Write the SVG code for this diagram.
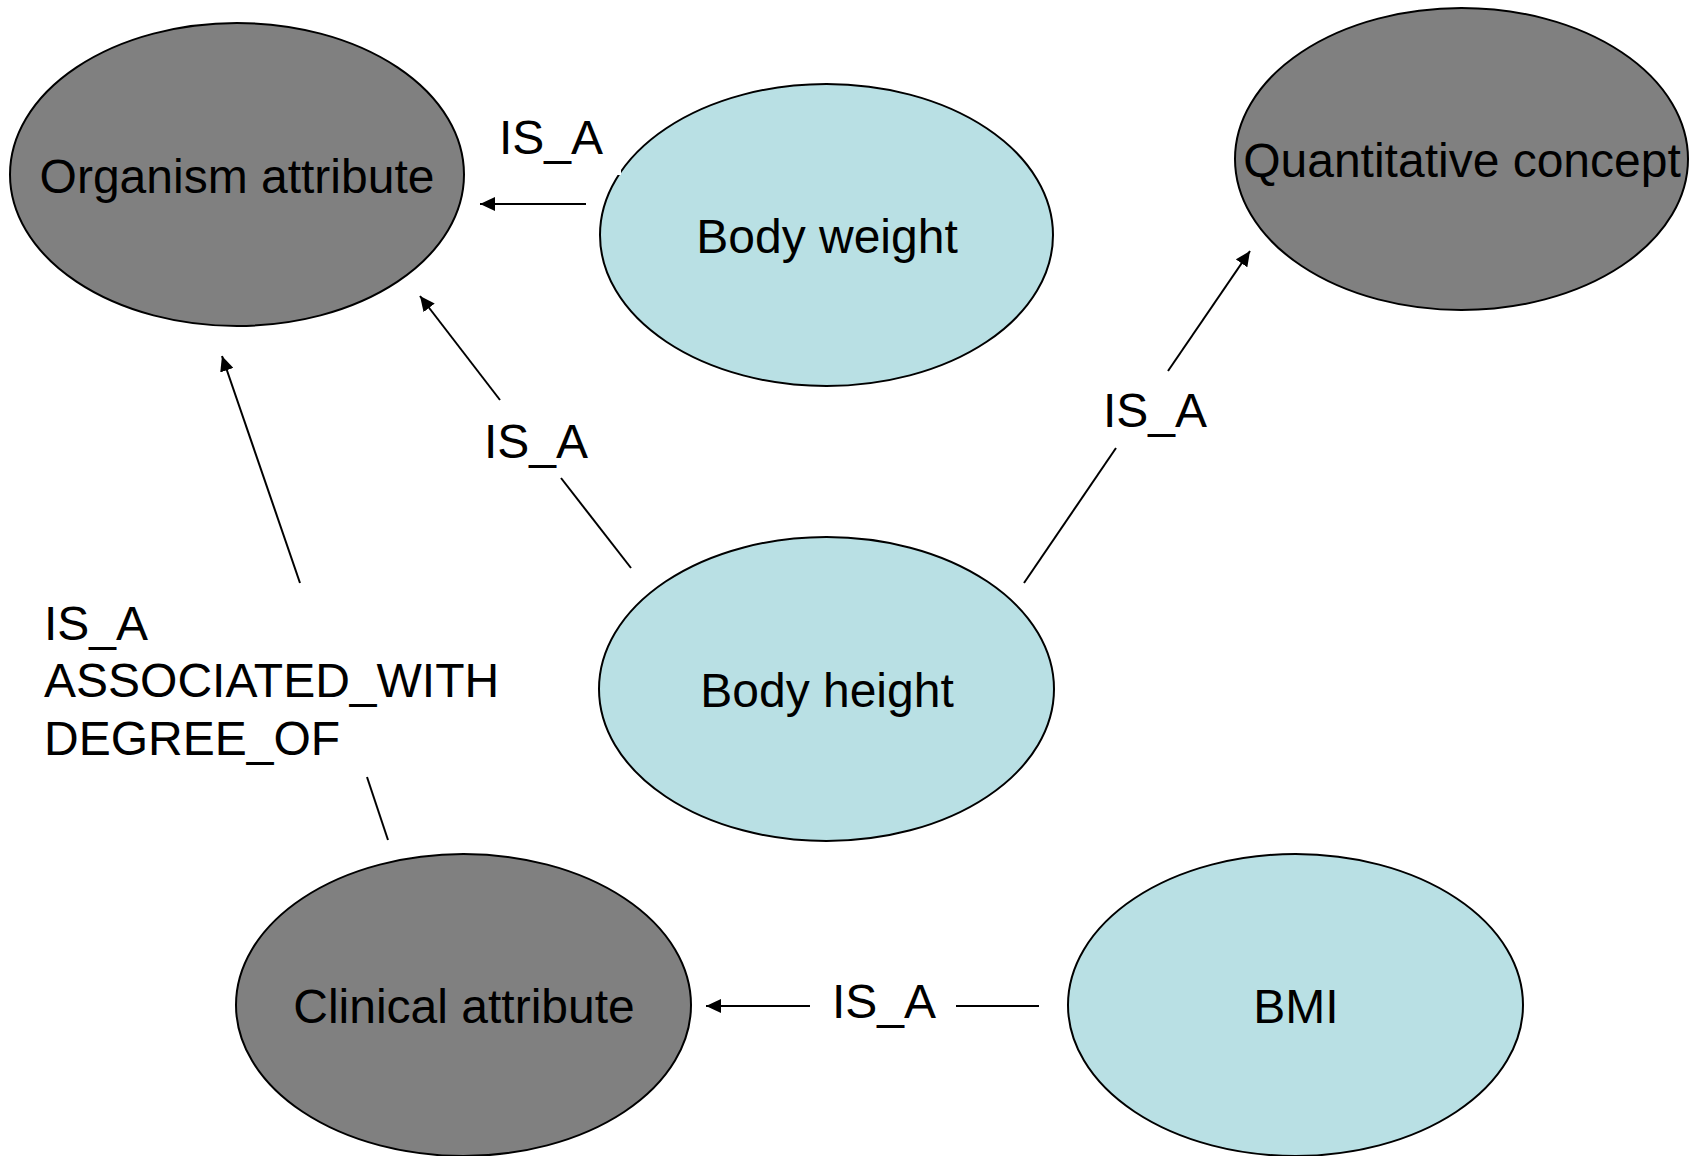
<svg xmlns="http://www.w3.org/2000/svg" width="1704" height="1156" viewBox="0 0 1704 1156">
  <style>
    .dark { fill: #808080; stroke: #000; stroke-width: 2; }
    .light { fill: #b9e0e4; stroke: #000; stroke-width: 2; }
    .label { font-family: "Liberation Sans", Arial, sans-serif; font-size: 48px; fill: #000; }
    .mid { text-anchor: middle; }
    .edge { stroke: #000; stroke-width: 2; fill: none; }
  </style>
  <defs>
    <marker id="arrow" viewBox="0 0 15 14" refX="15" refY="7" markerWidth="15" markerHeight="14" markerUnits="userSpaceOnUse" orient="auto">
      <path d="M0,0 L15,7 L0,14 z" fill="#000"/>
    </marker>
  </defs>
  <rect width="1704" height="1156" fill="#fff"/>

  <g id="organism-attribute">
    <ellipse class="dark" cx="237" cy="174.5" rx="227" ry="151.5"/>
    <text class="label mid" x="237" y="193">Organism attribute</text>
  </g>
  <g id="body-weight">
    <ellipse class="light" cx="826.5" cy="235" rx="226.5" ry="151"/>
    <text class="label mid" x="827" y="253">Body weight</text>
  </g>
  <g id="quantitative-concept">
    <ellipse class="dark" cx="1461.5" cy="159" rx="226.5" ry="151"/>
    <text class="label mid" x="1462" y="177">Quantitative concept</text>
  </g>
  <g id="body-height">
    <ellipse class="light" cx="826.5" cy="689" rx="227.5" ry="152"/>
    <text class="label mid" x="827" y="707">Body height</text>
  </g>
  <g id="clinical-attribute">
    <ellipse class="dark" cx="463.5" cy="1005" rx="227.5" ry="151"/>
    <text class="label mid" x="464" y="1023">Clinical attribute</text>
  </g>
  <g id="bmi">
    <ellipse class="light" cx="1295.5" cy="1005" rx="227.5" ry="151"/>
    <text class="label mid" x="1296" y="1023">BMI</text>
  </g>

  <g id="connectors">
    <!-- Body weight IS_A Organism attribute -->
    <rect x="488" y="112" width="133" height="63" fill="#fff"/>
    <text class="label" x="499" y="154">IS_A</text>
    <line class="edge" x1="586" y1="204" x2="480" y2="204" marker-end="url(#arrow)"/>

    <!-- Body height IS_A Organism attribute -->
    <line class="edge" x1="631" y1="568" x2="561" y2="478"/>
    <text class="label" x="484" y="458">IS_A</text>
    <line class="edge" x1="500" y1="400" x2="420" y2="296" marker-end="url(#arrow)"/>

    <!-- Body height IS_A Quantitative concept -->
    <line class="edge" x1="1024" y1="583" x2="1116" y2="448"/>
    <text class="label" x="1103" y="427">IS_A</text>
    <line class="edge" x1="1168" y1="371" x2="1250" y2="251" marker-end="url(#arrow)"/>

    <!-- Clinical attribute to Organism attribute -->
    <line class="edge" x1="388" y1="840" x2="367" y2="777"/>
    <text class="label" x="44" y="640">IS_A</text>
    <text class="label" x="44" y="697">ASSOCIATED_WITH</text>
    <text class="label" x="44" y="755">DEGREE_OF</text>
    <line class="edge" x1="300" y1="583" x2="222" y2="356" marker-end="url(#arrow)"/>

    <!-- BMI IS_A Clinical attribute -->
    <line class="edge" x1="1039" y1="1006" x2="956" y2="1006"/>
    <text class="label" x="832" y="1018">IS_A</text>
    <line class="edge" x1="810" y1="1006" x2="706" y2="1006" marker-end="url(#arrow)"/>
  </g>
</svg>
